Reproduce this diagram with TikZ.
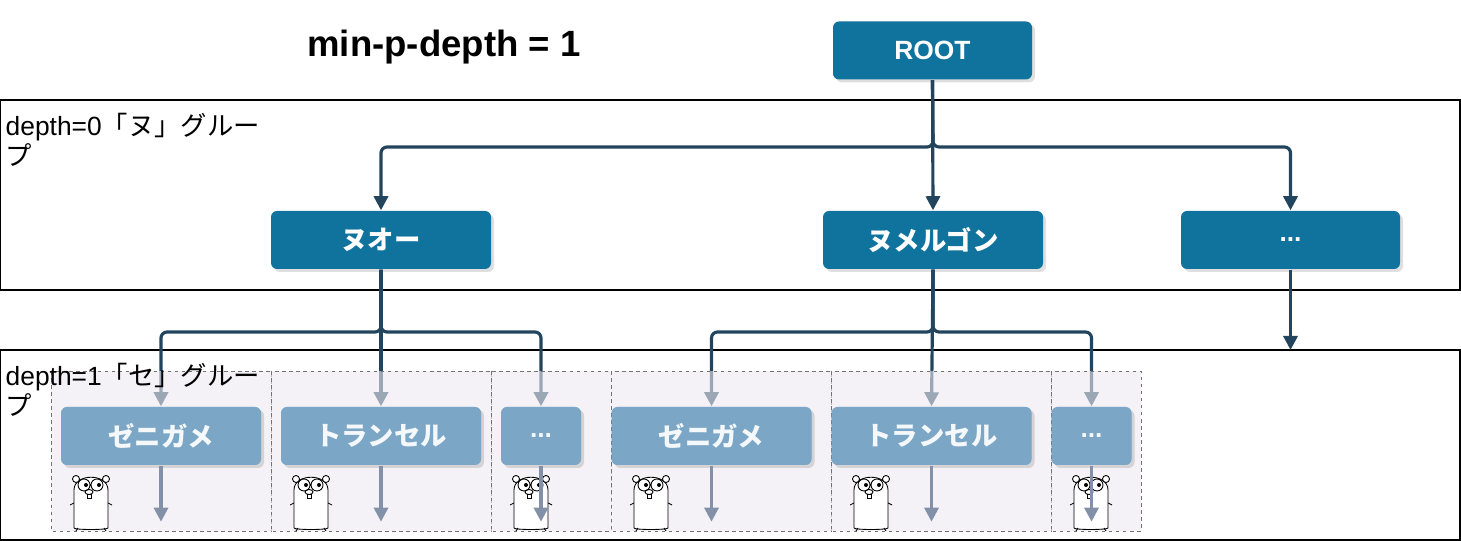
\documentclass[tikz,border=0pt]{standalone}
\usepackage{fontspec}
\setmainfont{Liberation Sans}
\newfontfamily\cjk{Noto Sans CJK JP}
\usetikzlibrary{shadows,arrows.meta}
\definecolor{boxblue}{HTML}{10739E}
\definecolor{lightblue}{HTML}{7BA6C6}
\definecolor{conncol}{HTML}{23445D}
\definecolor{graycol}{HTML}{8391A8}
\definecolor{cellfill}{HTML}{EEE9F1}
\tikzset{
  topbox/.style={draw=none, fill=boxblue, rounded corners=0.06cm, minimum width=#1, minimum height=0.58cm,
    text=white, font=\bfseries\fontsize{7.5}{8}\selectfont,
    drop shadow={shadow xshift=0.03cm, shadow yshift=-0.03cm, opacity=0.25}},
  subbox/.style={draw=none, fill=lightblue, rounded corners=0.06cm, minimum width=#1, minimum height=0.58cm,
    text=white!92!lightblue, font=\bfseries\fontsize{7.5}{8}\selectfont,
    drop shadow={shadow xshift=0.03cm, shadow yshift=-0.03cm, opacity=0.2}},
  conn/.style={draw=conncol, line width=0.9pt, rounded corners=0.06cm, -{Triangle[length=4pt,width=4pt]}},
  gconn/.style={draw=graycol, line width=0.9pt, -{Triangle[length=4pt,width=4pt]}},
  group/.style={draw=black, line width=0.3pt},
  cell/.style={draw=black!55, dash pattern=on 1pt off 1pt, line width=0.25pt, fill=cellfill, fill opacity=0.6},
  grouplabel/.style={anchor=north west, align=left, inner sep=0pt, font=\fontsize{7.5}{8.5}\selectfont},
  gopher/.pic={
    \draw[line width=0.25pt, fill=white] (-0.17,0) -- (-0.17,0.38) .. controls (-0.17,0.55) and (0.17,0.55) .. (0.17,0.38) -- (0.17,0) .. controls (0.17,-0.02) and (-0.17,-0.02) .. (-0.17,0);
    \draw[line width=0.25pt, fill=white] (-0.15,0.49) circle (0.035) (0.15,0.49) circle (0.035);
    \draw[line width=0.25pt, fill=white] (-0.07,0.43) circle (0.06) (0.06,0.43) circle (0.06);
    \fill (-0.05,0.43) circle (0.02) (0.08,0.43) circle (0.02);
    \draw[line width=0.25pt] (-0.02,0.36) ellipse (0.04 and 0.025);
    \draw[line width=0.25pt] (-0.035,0.335) rectangle (0.0,0.30);
    \draw[line width=0.25pt] (-0.17,0.25) -- (-0.21,0.23) (0.17,0.25) -- (0.21,0.23);
    \draw[line width=0.25pt] (-0.13,0) -- (-0.15,-0.03) (0.13,0) -- (0.15,-0.03);
  }
}
\begin{document}
\begin{tikzpicture}[y=-1cm]
\useasboundingbox (0,0) rectangle (14.61,5.41);
% groups
\draw[group] (0,1.00) rectangle (14.60,2.90);
\draw[group] (0,3.50) rectangle (14.60,5.40);
\node[font=\bfseries\fontsize{10.4}{12}\selectfont] (title) at (4.44,0.47) {min-p-depth = 1};
% boxes
\node[topbox=1.99cm] (root) at (9.325,0.505) {ROOT};
\node[topbox=2.20cm] (nuo) at (3.81,2.40) {\cjk ヌオー};
\node[topbox=2.20cm] (numel) at (9.33,2.40) {\cjk ヌメルゴン};
\node[topbox=2.19cm] (etc) at (12.905,2.40) {...};
\coordinate (etcend) at (12.905,3.50);
% connectors
\draw[conn] (root.south) -- (9.33,1.47) -| (nuo.north);
\draw[conn] (root.south) -- (numel.north);
\draw[conn] (root.south) -- (9.33,1.47) -| (etc.north);
\draw[conn] (etc.south) -- (etcend);
\node[subbox=2.00cm] (zeni1) at (1.61,4.36) {\cjk ゼニガメ};
\node[subbox=2.00cm] (tran1) at (3.81,4.36) {\cjk トランセル};
\node[subbox=0.80cm] (etc1) at (5.41,4.36) {...};
\node[subbox=2.00cm] (zeni2) at (7.115,4.36) {\cjk ゼニガメ};
\node[subbox=2.00cm] (tran2) at (9.315,4.36) {\cjk トランセル};
\node[subbox=0.80cm] (etc2) at (10.915,4.36) {...};
\draw[conn] (nuo.south) -- (3.81,3.32) -| (zeni1.north);
\draw[conn] (nuo.south) -- (tran1.north);
\draw[conn] (nuo.south) -- (3.81,3.32) -| (etc1.north);
\draw[conn] (numel.south) -- (9.33,3.32) -| (zeni2.north);
\draw[conn] (numel.south) -- (tran2.north);
\draw[conn] (numel.south) -- (9.33,3.32) -| (etc2.north);
% cells
\foreach \a/\b in {0.51/2.71, 2.71/4.91, 4.91/6.11, 6.11/8.31, 8.31/10.51, 10.51/11.41}
  \draw[cell] (\a,3.71) rectangle (\b,5.31);
\node[subbox=2.00cm] at (zeni1) {\cjk ゼニガメ};
\node[subbox=2.00cm] at (tran1) {\cjk トランセル};
\node[subbox=0.80cm] at (etc1) {...};
\node[subbox=2.00cm] at (zeni2) {\cjk ゼニガメ};
\node[subbox=2.00cm] at (tran2) {\cjk トランセル};
\node[subbox=0.80cm] at (etc2) {...};
% gophers
\foreach \x in {0.91,3.11,5.31,6.51,8.71,10.91}
  \pic at (\x,5.28) [yscale=-1] {gopher};
% leaf arrows
\foreach \n in {zeni1,tran1,etc1,zeni2,tran2,etc2}
  \draw[gconn] (\n.south) -- ++(0,0.56);
\node[grouplabel] (lab0) at (0.05,1.13) {depth=0{\cjk 「ヌ」グルー}\\{\cjk プ}};
\node[grouplabel] (lab1) at (0.05,3.63) {depth=1{\cjk 「セ」グルー}\\{\cjk プ}};
\end{tikzpicture}
\end{document}
